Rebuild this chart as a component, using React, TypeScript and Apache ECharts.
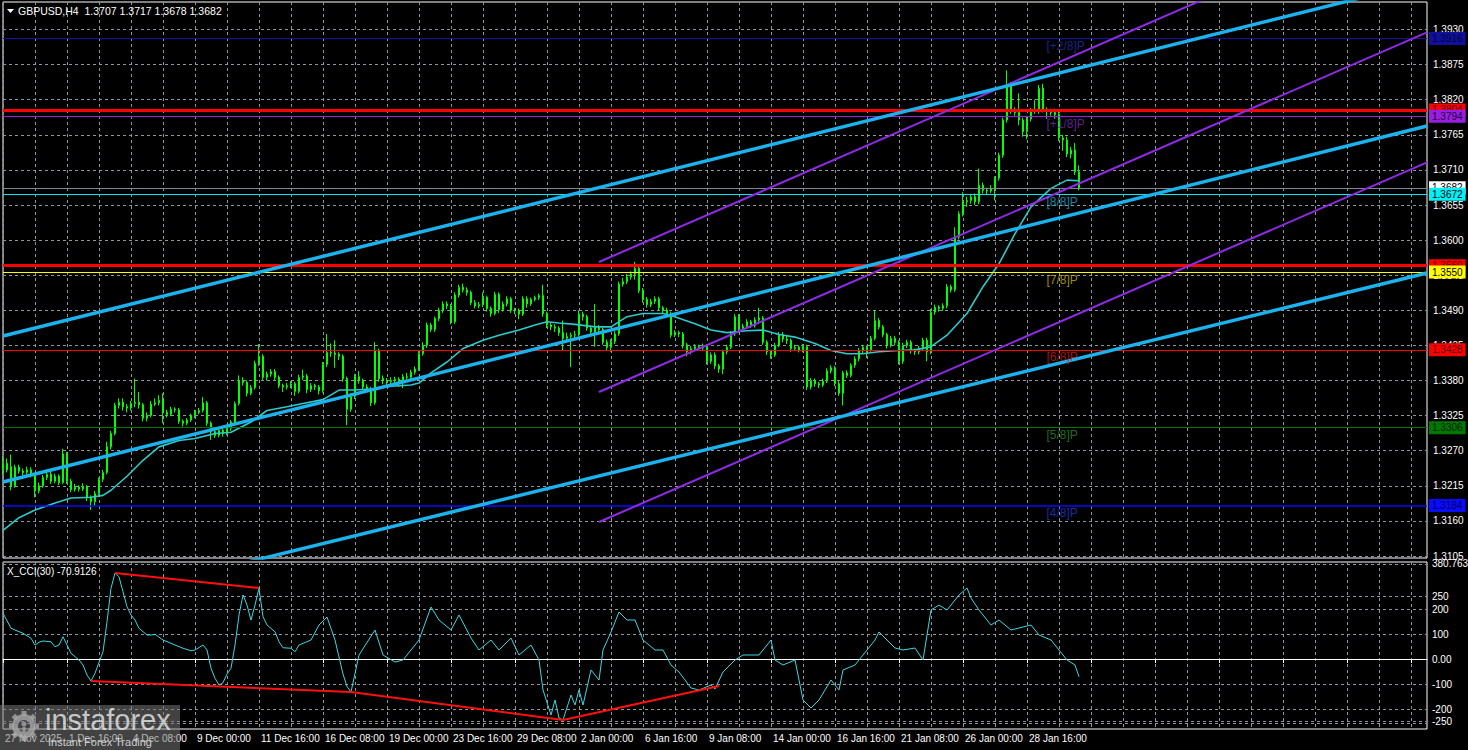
import React, { useEffect, useRef } from 'react';
import * as echarts from 'echarts';

// ---------- tick labels / categories ----------
const tickLabels = ['27 Nov 2025', '1 Dec 16:00', '4 Dec 08:00', '9 Dec 00:00', '11 Dec 16:00', '16 Dec 08:00', '19 Dec 00:00', '23 Dec 16:00', '29 Dec 08:00', '2 Jan 00:00', '6 Jan 16:00', '9 Jan 08:00', '14 Jan 00:00', '16 Jan 16:00', '21 Jan 08:00', '26 Jan 00:00', '28 Jan 16:00'];
const SLOT_COUNT = 357; // H4 bar slots across the window (incl. empty right shift)
const priceTicks = [1.3105, 1.316, 1.3215, 1.327, 1.3325, 1.338, 1.3435, 1.349, 1.3545, 1.36, 1.3655, 1.371, 1.3765, 1.382, 1.3875, 1.393];
const cciTicks = [380.7633, 250, 200, 100, 0, -100, -200, -250, -258.7219];
const PRICE_MIN = 1.310187;
const PRICE_MAX = 1.397309;
const CCI_MIN = -280;
const CCI_MAX = 388;

// ---------- candles [open, close, low, high] in pips (x 0.0001) ----------
const candlesNov = [
  [13240, 13250, 13232, 13262], [13250, 13240, 13236, 13258], [13245, 13215, 13208, 13264], [13215, 13244, 13212, 13248], [13244, 13238, 13234, 13248], [13238, 13236, 13231, 13242],
  [13236, 13240, 13233, 13245], [13240, 13232, 13228, 13244], [13232, 13207, 13197, 13235], [13207, 13215, 13203, 13220], [13215, 13228, 13212, 13232], [13228, 13233, 13224, 13238],
];
const candlesDec = [
  [13233, 13222, 13218, 13237], [13222, 13230, 13219, 13234], [13230, 13220, 13216, 13233], [13220, 13265, 13218, 13273], [13265, 13222, 13218, 13268], [13222, 13209, 13205, 13226],
  [13209, 13213, 13206, 13218], [13213, 13210, 13206, 13216], [13210, 13214, 13207, 13219], [13214, 13196, 13191, 13216], [13196, 13190, 13177, 13200], [13190, 13203, 13184, 13207],
  [13203, 13225, 13200, 13228], [13225, 13236, 13221, 13240], [13236, 13276, 13233, 13284], [13276, 13297, 13272, 13301], [13297, 13341, 13294, 13345], [13341, 13346, 13336, 13352],
  [13346, 13339, 13333, 13352], [13339, 13337, 13330, 13343], [13337, 13344, 13333, 13348], [13344, 13346, 13338, 13383], [13346, 13342, 13336, 13362], [13342, 13321, 13316, 13345],
  [13321, 13325, 13316, 13330], [13325, 13343, 13322, 13348], [13343, 13345, 13340, 13352], [13345, 13349, 13341, 13357], [13349, 13330, 13313, 13360], [13330, 13327, 13322, 13334],
  [13327, 13335, 13324, 13339], [13335, 13334, 13330, 13338], [13334, 13316, 13312, 13337], [13316, 13313, 13308, 13319], [13313, 13318, 13310, 13321], [13318, 13325, 13315, 13328],
  [13325, 13330, 13321, 13334], [13330, 13333, 13327, 13337], [13333, 13345, 13330, 13354], [13345, 13313, 13309, 13348], [13313, 13300, 13287, 13316], [13300, 13294, 13290, 13304],
  [13294, 13302, 13291, 13305], [13302, 13297, 13292, 13305], [13297, 13305, 13294, 13308], [13305, 13315, 13301, 13318], [13315, 13344, 13312, 13347], [13344, 13380, 13341, 13388],
  [13380, 13377, 13372, 13385], [13377, 13360, 13355, 13380], [13360, 13369, 13357, 13373], [13369, 13407, 13366, 13411], [13407, 13418, 13403, 13437], [13418, 13385, 13381, 13421],
  [13385, 13390, 13380, 13394], [13390, 13394, 13386, 13398], [13394, 13385, 13381, 13398], [13385, 13372, 13368, 13388], [13372, 13370, 13362, 13375], [13370, 13372, 13366, 13376],
  [13372, 13375, 13368, 13379], [13375, 13363, 13356, 13378], [13363, 13385, 13360, 13389], [13385, 13387, 13381, 13397], [13387, 13366, 13360, 13390], [13366, 13372, 13362, 13376],
  [13372, 13370, 13365, 13375], [13370, 13364, 13358, 13373], [13364, 13405, 13361, 13409], [13405, 13424, 13401, 13453], [13424, 13423, 13417, 13438], [13423, 13421, 13400, 13443],
  [13421, 13418, 13412, 13424], [13418, 13383, 13378, 13421], [13383, 13335, 13310, 13386], [13335, 13355, 13331, 13360], [13355, 13386, 13351, 13390], [13386, 13380, 13375, 13395],
  [13380, 13370, 13366, 13383], [13370, 13367, 13362, 13374], [13367, 13345, 13340, 13370], [13345, 13427, 13342, 13440], [13427, 13383, 13378, 13430], [13383, 13380, 13374, 13388],
  [13380, 13378, 13370, 13384], [13378, 13380, 13372, 13385], [13380, 13382, 13374, 13386], [13382, 13378, 13370, 13385], [13378, 13386, 13368, 13390], [13386, 13385, 13379, 13392],
  [13385, 13393, 13382, 13397], [13393, 13398, 13389, 13402], [13398, 13422, 13395, 13426], [13422, 13435, 13419, 13440], [13435, 13467, 13431, 13471], [13467, 13460, 13456, 13470],
  [13460, 13477, 13456, 13480], [13477, 13490, 13473, 13494], [13490, 13500, 13486, 13504], [13500, 13497, 13492, 13504], [13497, 13472, 13468, 13500], [13472, 13514, 13469, 13518],
  [13514, 13526, 13510, 13530], [13526, 13522, 13518, 13532], [13522, 13518, 13513, 13526], [13518, 13502, 13498, 13521], [13502, 13497, 13493, 13506], [13497, 13499, 13493, 13503],
  [13499, 13510, 13495, 13518], [13510, 13493, 13488, 13513], [13493, 13485, 13480, 13496], [13485, 13515, 13482, 13519], [13515, 13491, 13486, 13518], [13491, 13500, 13488, 13504],
  [13500, 13508, 13496, 13512], [13508, 13490, 13486, 13511], [13490, 13490, 13484, 13494], [13490, 13484, 13476, 13493], [13484, 13508, 13481, 13512], [13508, 13500, 13494, 13512],
  [13500, 13507, 13497, 13510], [13507, 13510, 13504, 13513], [13510, 13513, 13506, 13516], [13513, 13485, 13480, 13530], [13485, 13467, 13462, 13488], [13467, 13464, 13459, 13470],
  [13464, 13462, 13456, 13468], [13462, 13455, 13450, 13465], [13455, 13446, 13427, 13474], [13446, 13449, 13440, 13455], [13449, 13451, 13401, 13455], [13451, 13452, 13445, 13458],
];
const candlesJan = [
  [13452, 13484, 13449, 13490], [13484, 13480, 13474, 13488], [13480, 13462, 13458, 13483], [13462, 13456, 13451, 13466], [13456, 13463, 13433, 13500], [13463, 13460, 13455, 13467],
  [13460, 13440, 13436, 13463], [13440, 13432, 13427, 13444], [13432, 13441, 13425, 13445], [13441, 13453, 13437, 13457], [13453, 13531, 13450, 13535], [13531, 13535, 13527, 13541],
  [13535, 13542, 13531, 13547], [13542, 13547, 13538, 13551], [13547, 13556, 13538, 13566], [13556, 13521, 13517, 13559], [13521, 13507, 13502, 13525], [13507, 13499, 13494, 13511],
  [13499, 13504, 13495, 13508], [13504, 13508, 13500, 13512], [13508, 13494, 13489, 13511], [13494, 13490, 13485, 13497], [13490, 13485, 13480, 13494], [13485, 13451, 13447, 13488],
  [13451, 13455, 13448, 13459], [13455, 13453, 13448, 13458], [13453, 13436, 13430, 13456], [13436, 13425, 13418, 13439], [13425, 13430, 13421, 13434], [13430, 13433, 13427, 13437],
  [13433, 13431, 13427, 13436], [13431, 13434, 13428, 13438], [13434, 13410, 13405, 13437], [13410, 13420, 13406, 13424], [13420, 13403, 13398, 13424], [13403, 13398, 13392, 13406],
  [13398, 13425, 13390, 13428], [13425, 13432, 13421, 13436], [13432, 13453, 13429, 13457], [13453, 13480, 13450, 13484], [13480, 13460, 13455, 13484], [13460, 13465, 13457, 13469],
  [13465, 13472, 13462, 13476], [13472, 13466, 13462, 13475], [13466, 13475, 13463, 13479], [13475, 13478, 13472, 13494], [13478, 13440, 13436, 13481], [13440, 13425, 13420, 13443],
  [13425, 13420, 13414, 13428], [13420, 13435, 13417, 13439], [13435, 13452, 13432, 13456], [13452, 13445, 13440, 13456], [13445, 13443, 13437, 13450], [13443, 13430, 13425, 13446],
  [13430, 13432, 13426, 13436], [13432, 13428, 13424, 13435], [13428, 13433, 13424, 13437], [13433, 13370, 13365, 13436], [13370, 13380, 13366, 13384], [13380, 13375, 13370, 13383],
  [13375, 13373, 13368, 13378], [13373, 13379, 13370, 13383], [13379, 13395, 13376, 13399], [13395, 13400, 13391, 13404], [13400, 13375, 13371, 13403], [13375, 13360, 13356, 13379],
  [13360, 13392, 13341, 13395], [13392, 13388, 13384, 13396], [13388, 13404, 13385, 13407], [13404, 13414, 13400, 13418], [13414, 13427, 13410, 13431], [13427, 13432, 13423, 13436],
  [13432, 13428, 13415, 13435], [13428, 13446, 13425, 13450], [13446, 13474, 13443, 13490], [13474, 13464, 13460, 13478], [13464, 13452, 13448, 13467], [13452, 13435, 13430, 13455],
  [13435, 13446, 13432, 13450], [13446, 13440, 13435, 13450], [13440, 13410, 13405, 13443], [13410, 13435, 13406, 13439], [13435, 13440, 13431, 13444], [13440, 13427, 13422, 13443],
  [13427, 13425, 13420, 13430], [13425, 13430, 13421, 13434], [13430, 13443, 13426, 13447], [13443, 13425, 13410, 13447], [13425, 13487, 13421, 13492], [13487, 13495, 13483, 13499],
  [13495, 13493, 13488, 13498], [13493, 13497, 13489, 13501], [13497, 13527, 13493, 13531], [13527, 13522, 13518, 13530], [13522, 13605, 13519, 13620], [13605, 13641, 13601, 13645],
  [13641, 13660, 13637, 13675], [13660, 13662, 13652, 13668], [13662, 13668, 13657, 13672], [13668, 13660, 13655, 13673], [13660, 13686, 13656, 13712], [13686, 13678, 13673, 13690],
  [13678, 13677, 13672, 13682], [13677, 13681, 13674, 13686], [13681, 13697, 13662, 13700], [13697, 13733, 13693, 13737], [13733, 13788, 13729, 13792], [13788, 13843, 13784, 13866],
  [13843, 13804, 13798, 13848], [13804, 13800, 13795, 13808], [13800, 13788, 13780, 13830], [13788, 13770, 13762, 13792], [13770, 13790, 13758, 13794], [13790, 13803, 13786, 13807],
  [13803, 13802, 13798, 13820], [13802, 13838, 13798, 13843], [13838, 13804, 13800, 13845], [13804, 13802, 13790, 13808], [13802, 13800, 13795, 13806], [13800, 13797, 13790, 13806],
  [13797, 13760, 13755, 13803], [13760, 13757, 13740, 13765], [13757, 13735, 13730, 13762], [13735, 13741, 13728, 13746], [13741, 13707, 13702, 13752], [13707, 13682, 13678, 13717],
];

// ---------- moving average [bar, pips] ----------
const maPoints = [
  [0, 13145], [4, 13165], [8, 13177], [13, 13188], [17, 13196], [22, 13197], [25, 13200], [27, 13208], [31, 13230], [35, 13255], [39, 13276], [44, 13286],
  [48, 13289], [53, 13297], [57, 13299], [62, 13315], [66, 13333], [71, 13339], [75, 13344], [80, 13350], [84, 13365], [88, 13365], [93, 13367], [97, 13371],
  [102, 13373], [104, 13376], [107, 13392], [111, 13409], [115, 13430], [120, 13443], [124, 13451], [129, 13459], [133, 13467], [136, 13472], [139, 13470], [143, 13468],
  [148, 13464], [152, 13464], [156, 13480], [160, 13485], [165, 13485], [167, 13482], [173, 13469], [177, 13459], [181, 13455], [186, 13458], [190, 13459], [194, 13452],
  [198, 13448], [203, 13438], [207, 13427], [211, 13422], [215, 13422], [219, 13425], [224, 13427], [228, 13428], [232, 13433], [236, 13451], [241, 13485], [245, 13527],
  [249, 13563], [253, 13610], [257, 13652], [262, 13681], [266, 13694], [269, 13693],
];

// ---------- CCI(30) [bar, value] ----------
const cciPoints = [
  [0, 183], [2, 123], [3, 116], [5, 103], [7, 83], [8, 56], [9, 67], [10, 72], [12, 69], [13, 49], [14, 56], [15, 89], [16, 56], [17, 23], [19, -4], [20, -24],
  [21, -64], [22, -88], [23, -57], [25, 29], [26, 149], [27, 283], [28, 344], [29, 329], [30, 269], [31, 209], [32, 176], [33, 156], [34, 123], [36, 96], [37, 96],
  [38, 99], [40, 76], [42, 63], [43, 56], [45, 43], [47, 33], [48, 36], [50, 56], [51, 36], [52, -37], [53, -77], [54, -104], [55, -95], [56, -60], [57, -37],
  [58, 56], [59, 176], [60, 256], [61, 216], [62, 156], [63, 216], [64, 283], [65, 169], [66, 136], [68, 109], [69, 69], [70, 45], [72, 43], [73, 29], [74, 56],
  [77, 76], [79, 136], [81, 168], [83, 76], [85, -60], [86, -110], [87, -132], [89, 16], [93, 116], [95, 16], [98, -12], [100, -4], [104, 76], [107, 208], [109, 156],
  [112, 116], [114, 176], [117, 84], [119, 36], [122, 76], [124, 36], [127, 84], [129, 16], [132, 56], [134, -4], [135, -124], [137, -224], [138, -164], [139, -236],
  [140, -244], [142, -144], [143, -184], [144, -124], [145, -184], [147, -44], [149, -84], [150, 36], [152, 108], [154, 188], [156, 156], [158, 156], [160, 76],
  [163, 36], [165, 36], [167, -24], [169, -52], [172, -116], [174, -124], [177, -104], [178, -120], [180, -52], [183, -4], [185, 16], [189, 16], [192, 76], [193, -4],
  [195, -24], [198, -4], [200, -164], [202, -196], [204, -164], [207, -84], [209, -124], [210, -44], [213, -24], [215, 16], [218, 76], [219, 108], [221, 76], [223, 44],
  [225, 36], [228, 44], [230, -4], [232, 196], [234, 216], [236, 196], [239, 256], [241, 284], [242, 244], [244, 196], [247, 136], [249, 156], [252, 116], [254, 124],
  [257, 136], [259, 96], [262, 76], [264, 36], [266, -4], [268, -24], [269, -70.9126],
];
const cciDivergence = [
  [[28, 344], [64, 284]],
  [[22, -88], [87, -132]],
  [[87, -132], [140, -244]],
  [[140, -244], [179, -108]],
];

// ---------- drawn objects ----------
const blueTrendLines = [
  [[0, 1.34497], [356, 1.40054]],
  [[0, 1.3221], [356, 1.37788]],
  [[0, 1.30016], [356, 1.35485]],
];
const purpleChannel = [
  [[149, 1.35657], [356, 1.41293]],
  [[149, 1.3362], [356, 1.39256]],
  [[149, 1.31583], [356, 1.37219]],
];
const levelPrices = [1.3916, 1.3804, 1.3794, 1.3682, 1.3672, 1.356, 1.355, 1.3428, 1.3306, 1.3184];
const levelStyles = [
  { line: '#1212a8', width: 1, bg: '#10109a', text: '#000040' },
  { line: '#ff0000', width: 3, bg: '#ff0000', text: '#500000' },
  { line: '#9a1ee0', width: 1, bg: '#9a1ee0', text: '#200040' },
  { line: '#7a8898', width: 1, bg: '#ffffff', text: '#000000' },
  { line: '#00e8f0', width: 1, bg: '#00f0f8', text: '#000000' },
  { line: '#ff0000', width: 3, bg: '#ff0000', text: '#500000' },
  { line: '#ffff00', width: 1, bg: '#ffff00', text: '#000000' },
  { line: '#ff0000', width: 1, bg: '#ff0000', text: '#500000' },
  { line: '#007800', width: 1, bg: '#007800', text: '#002000' },
  { line: '#0a0aff', width: 1.5, bg: '#0a0aff', text: '#000050' },
];
const murrayLabels = ['[+2/8]P', '[+1/8]P', '[8/8]P', '[7/8]P', '[6/8]P', '[5/8]P', '[4/8]P'];
const murrayPrices = [1.3916, 1.3794, 1.3672, 1.355, 1.3428, 1.3306, 1.3184];
const murrayColors = ['#2030a8', '#7a2ab8', '#1aa8c8', '#c8b400', '#d01818', '#2a8a2a', '#2038d0'];
const MURRAY_BAR = 261;

const FONT = '"Liberation Sans", Arial, sans-serif';
const GRID_COLOR = '#8e96a0';

export default function App() {
  const ref = useRef<HTMLDivElement>(null);

  useEffect(() => {
    document.body.style.margin = '0';
    document.body.style.background = '#000';
    const chart = echarts.init(ref.current as HTMLDivElement, null, { renderer: 'svg' });

    const cats = Array.from({ length: SLOT_COUNT }, (_, i) => String(i));
    const candles = [...candlesNov, ...candlesDec, ...candlesJan].map((r) => r.map((v) => v / 10000));
    const splitX = { show: true, interval: 7, lineStyle: { color: GRID_COLOR, type: [3, 3], width: 1 } };
    const splitY = { show: true, lineStyle: { color: GRID_COLOR, type: [3, 3], width: 1 } };

    const series: any[] = [
      {
        type: 'candlestick',
        xAxisIndex: 0,
        yAxisIndex: 0,
        data: candles,
        barWidth: 2,
        z: 2,
        itemStyle: {
          color: '#000000',
          color0: '#ffffff',
          borderColor: '#00ff00',
          borderColor0: '#00ff00',
          borderColorDoji: '#00ff00',
          borderWidth: 1,
        },
      },
      {
        type: 'line',
        name: 'levels',
        xAxisIndex: 0,
        yAxisIndex: 0,
        data: [],
        z: 3,
        markLine: {
          silent: true,
          symbol: ['none', 'none'],
          precision: 4,
          animation: false,
          data: levelPrices.map((p, i) => ({
            yAxis: p,
            lineStyle: { color: levelStyles[i].line, width: levelStyles[i].width, type: 'solid' },
            label: {
              show: true,
              position: 'end',
              distance: 2,
              formatter: p.toFixed(4),
              color: levelStyles[i].text,
              backgroundColor: levelStyles[i].bg,
              padding: [2, 3, 1, 3],
              fontSize: 10,
              fontFamily: FONT,
            },
          })),
        },
      },
      {
        type: 'line',
        xAxisIndex: 0,
        yAxisIndex: 0,
        data: maPoints.map(([i, v]) => [i, v / 10000]),
        showSymbol: false,
        symbol: 'none',
        z: 4,
        lineStyle: { color: '#2ccaca', width: 1.6 },
      },
      ...purpleChannel.map((seg) => ({
        type: 'line',
        xAxisIndex: 0,
        yAxisIndex: 0,
        data: seg,
        symbol: 'none',
        z: 5,
        lineStyle: { color: '#8f2be6', width: 2 },
      })),
      ...blueTrendLines.map((seg) => ({
        type: 'line',
        xAxisIndex: 0,
        yAxisIndex: 0,
        data: seg,
        symbol: 'none',
        z: 6,
        lineStyle: { color: '#1cb2ee', width: 3.5 },
      })),
      {
        type: 'scatter',
        xAxisIndex: 0,
        yAxisIndex: 0,
        symbolSize: 1,
        z: 7,
        itemStyle: { color: 'rgba(0,0,0,0)' },
        data: murrayPrices.map((p, i) => ({
          value: [MURRAY_BAR, p],
          label: {
            show: true,
            position: [0, 2],
            formatter: murrayLabels[i],
            color: murrayColors[i],
            fontSize: 12,
            fontFamily: FONT,
          },
        })),
      },
      {
        type: 'line',
        xAxisIndex: 1,
        yAxisIndex: 1,
        data: cciPoints,
        symbol: 'none',
        z: 3,
        lineStyle: { color: '#3ad8e2', width: 1 },
      },
      ...cciDivergence.map((seg) => ({
        type: 'line',
        xAxisIndex: 1,
        yAxisIndex: 1,
        data: seg,
        symbol: 'none',
        z: 4,
        lineStyle: { color: '#ff1010', width: 2 },
      })),
    ];

    const teeth = Array.from({ length: 8 }, (_, k) => ({
      type: 'rect',
      shape: { x: -2.5, y: -15, width: 5, height: 5 },
      rotation: (k * Math.PI) / 4,
      style: { fill: 'rgba(225,225,225,0.8)' },
    }));

    const option: any = {
      animation: false,
      backgroundColor: '#000000',
      textStyle: { fontFamily: FONT },
      grid: [
        { left: 3, top: 2, width: 1424, height: 556, show: true, borderColor: '#ffffff', borderWidth: 1, backgroundColor: 'transparent', outerBoundsMode: 'none', containLabel: false },
        { left: 3, top: 562, width: 1424, height: 167, show: true, borderColor: '#ffffff', borderWidth: 1, backgroundColor: 'transparent', outerBoundsMode: 'none', containLabel: false },
      ],
      xAxis: [
        {
          type: 'category',
          gridIndex: 0,
          data: cats,
          boundaryGap: false,
          axisLine: { show: false },
          axisTick: { show: false },
          axisLabel: { show: false },
          splitLine: splitX,
        },
        {
          type: 'category',
          gridIndex: 1,
          data: cats,
          boundaryGap: false,
          axisLine: { show: true, lineStyle: { color: '#ffffff' } },
          axisTick: { show: true, interval: 15, length: 4, lineStyle: { color: '#ffffff' } },
          axisLabel: {
            show: true,
            interval: 15,
            align: 'left',
            margin: 4,
            padding: [0, 0, 0, 2],
            color: '#ffffff',
            fontSize: 10,
            fontFamily: FONT,
            formatter: (_v: string, idx: number) => tickLabels[idx / 16] ?? '',
          },
          splitLine: splitX,
        },
      ],
      yAxis: [
        {
          type: 'value',
          gridIndex: 0,
          position: 'right',
          min: PRICE_MIN,
          max: PRICE_MAX,
          axisLine: { show: false },
          axisTick: { show: false, customValues: priceTicks },
          axisLabel: { show: true, customValues: priceTicks, color: '#ffffff', fontSize: 10, fontFamily: FONT, margin: 6, formatter: (v: number) => v.toFixed(4) },
          splitLine: splitY,
        },
        {
          type: 'value',
          gridIndex: 1,
          position: 'right',
          min: CCI_MIN,
          max: CCI_MAX,
          axisLine: { show: false },
          axisTick: { show: false, customValues: cciTicks },
          axisLabel: {
            show: true,
            customValues: cciTicks,
            color: '#ffffff',
            fontSize: 10,
            fontFamily: FONT,
            margin: 5,
            formatter: (v: number) => (v === 0 ? '0.00' : Number.isInteger(v) ? String(v) : v.toFixed(4)),
          },
          splitLine: splitY,
        },
      ],
      series,
      graphic: [
        { type: 'polygon', shape: { points: [[7, 9], [14, 9], [10.5, 13]] }, style: { fill: '#ffffff' }, z: 50 },
        { type: 'text', x: 18, y: 5, style: { text: 'GBPUSD,H4  1.3707 1.3717 1.3678 1.3682', fill: '#ffffff', fontSize: 10.5, fontFamily: FONT }, z: 50 },
        { type: 'text', x: 7, y: 566, style: { text: 'X_CCI(30) -70.9126', fill: '#ffffff', fontSize: 10, fontFamily: FONT }, z: 50 },
        { type: 'rect', shape: { x: 0, y: 705, width: 180, height: 45 }, style: { fill: 'rgba(120,120,120,0.55)' }, z: 60 },
        {
          type: 'group',
          x: 24,
          y: 726,
          z: 61,
          children: [
            { type: 'ring', shape: { cx: 0, cy: 0, r: 12, r0: 6 }, style: { fill: 'rgba(225,225,225,0.8)' } },
            ...teeth,
            { type: 'circle', shape: { cx: 0, cy: -2, r: 2.5 }, style: { fill: 'rgba(225,225,225,0.8)' } },
            { type: 'rect', shape: { x: -1.5, y: 1, width: 3, height: 5 }, style: { fill: 'rgba(225,225,225,0.8)' } },
          ],
        },
        { type: 'text', x: 45, y: 705, style: { text: 'instaforex', fill: 'rgba(235,235,235,0.8)', fontSize: 29, fontFamily: FONT }, z: 62 },
        { type: 'text', x: 48, y: 736, style: { text: 'Instant Forex Trading', fill: 'rgba(230,230,230,0.85)', fontSize: 11, fontFamily: FONT }, z: 62 },
      ],
    };

    chart.setOption(option);
    return () => chart.dispose();
  }, []);

  return <div ref={ref} style={{ width: 1468, height: 750, background: '#000' }} />;
}
